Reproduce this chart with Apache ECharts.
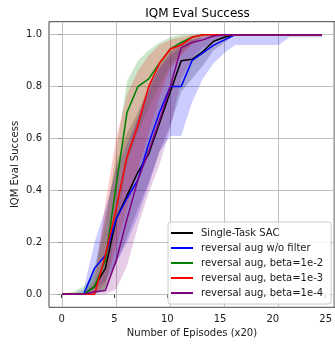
<!DOCTYPE html>
<html><head><meta charset="utf-8">
<script src="https://cdn.jsdelivr.net/npm/echarts@6/dist/echarts.min.js"></script>
<style>html,body{margin:0;padding:0;background:#fff}#c{width:335px;height:345px}</style>
</head><body><div id="c"></div>
<script>
// ---- data ----
const episodes = [0,1,2,3,4,5,6,7,8,9,10,11,12,13,14,15,16,17,18,19,20,21,22,23,24];
const xTicks = [0,5,10,15,20,25];
const yTicks = [0,0.2,0.4,0.6,0.8,1.0];
const seriesNames = ['Single-Task SAC','reversal aug w/o filter','reversal aug, beta=1e-2','reversal aug, beta=1e-3','reversal aug, beta=1e-4'];

const sacMid = [0,0,0,0.03,0.10,0.29,0.38,0.47,0.54,0.66,0.78,0.90,0.905,0.935,0.975,0.99,1,1,1,1,1,1,1,1,1];
const sacLo  = [0,0,0,0,0.02,0.12,0.22,0.33,0.43,0.55,0.65,0.78,0.83,0.88,0.94,0.97,1,1,1,1,1,1,1,1,1];
const sacHi  = [0,0,0,0.10,0.30,0.50,0.62,0.70,0.80,0.88,0.94,0.97,0.98,0.99,1,1,1,1,1,1,1,1,1,1,1];

const noFiltMid = [0,0,0,0.10,0.15,0.29,0.37,0.44,0.58,0.70,0.80,0.80,0.90,0.93,0.96,0.98,1,1,1,1,1,1,1,1,1];
const noFiltLo  = [0,0,0,0.02,0.05,0.12,0.20,0.30,0.42,0.55,0.61,0.61,0.74,0.83,0.89,0.93,0.96,0.96,0.96,0.96,0.96,0.99,0.99,0.99,0.99];
const noFiltHi  = [0,0,0.02,0.20,0.33,0.48,0.58,0.68,0.80,0.87,0.92,0.95,0.98,0.99,1,1,1,1,1,1,1,1,1,1,1];

const b2Mid = [0,0,0,0.03,0.13,0.42,0.70,0.80,0.83,0.89,0.945,0.97,0.99,1,1,1,1,1,1,1,1,1,1,1,1];
const b2Lo  = [0,0,0,0,0.02,0.25,0.50,0.62,0.72,0.80,0.88,0.93,0.97,0.99,1,1,1,1,1,1,1,1,1,1,1];
const b2Hi  = [0,0.01,0.03,0.08,0.27,0.55,0.82,0.90,0.94,0.97,0.99,1,1,1,1,1,1,1,1,1,1,1,1,1,1];

const b3Mid = [0,0,0,0,0.15,0.33,0.53,0.65,0.80,0.89,0.945,0.96,0.99,1,1,1,1,1,1,1,1,1,1,1,1];
const b3Lo  = [0,0,0,0,0.04,0.18,0.33,0.48,0.62,0.76,0.87,0.92,0.96,0.99,1,1,1,1,1,1,1,1,1,1,1];
const b3Hi  = [0,0,0,0.05,0.35,0.60,0.77,0.86,0.92,0.96,0.98,0.99,1,1,1,1,1,1,1,1,1,1,1,1,1];

const b4Mid = [0,0,0,0.01,0.015,0.13,0.29,0.44,0.55,0.67,0.80,0.95,0.97,0.98,0.995,1,1,1,1,1,1,1,1,1,1];
const b4Lo  = [0,0,0,0,0,0.02,0.11,0.26,0.39,0.50,0.64,0.83,0.91,0.95,0.97,0.99,1,1,1,1,1,1,1,1,1];
const b4Hi  = [0,0,0,0.02,0.10,0.35,0.55,0.68,0.78,0.88,0.93,0.97,0.99,1,1,1,1,1,1,1,1,1,1,1,1];

// ---- styles ----
const FONT = 'DejaVu Sans';
const TXT = '#1a1a1a';
const groups = [
  {mid: sacMid, lo: sacLo, hi: sacHi, color: '#000000', fill: 'rgba(0,0,0,0.2)'},
  {mid: noFiltMid, lo: noFiltLo, hi: noFiltHi, color: '#0000ff', fill: 'rgba(0,0,255,0.2)'},
  {mid: b2Mid, lo: b2Lo, hi: b2Hi, color: '#008000', fill: 'rgba(0,128,0,0.2)'},
  {mid: b3Mid, lo: b3Lo, hi: b3Hi, color: '#ff0000', fill: 'rgba(255,0,0,0.2)'},
  {mid: b4Mid, lo: b4Lo, hi: b4Hi, color: '#800080', fill: 'rgba(128,0,128,0.2)'}
];

const series = [];
groups.forEach((g, i) => {
  series.push({
    name: 'band-' + i, type: 'custom', coordinateSystem: 'cartesian2d', xAxisIndex: 0, yAxisIndex: 0,
    data: episodes.map((x, j) => [x, g.lo[j], g.hi[j]]),
    encode: {x: 0, y: [1, 2]}, silent: true, z: 1, clip: true,
    renderItem: function (params, api) {
      if (params.dataIndex !== 0) return null;
      const pts = [];
      for (let j = 0; j < episodes.length; j++) pts.push(api.coord([episodes[j], g.hi[j]]));
      for (let j = episodes.length - 1; j >= 0; j--) pts.push(api.coord([episodes[j], g.lo[j]]));
      return {type: 'polygon', shape: {points: pts}, style: {fill: g.fill, stroke: null}};
    }
  });
});
// gridlines spanning the full axes box
series.push({
  name: 'grid', type: 'line', xAxisIndex: 0, yAxisIndex: 0, data: [], silent: true, z: 1,
  markLine: {
    silent: true, symbol: ['none', 'none'], label: {show: false}, animation: false, z: 1,
    lineStyle: {color: '#b0b0b0', width: 0.8, type: 'solid'},
    emphasis: {disabled: true},
    data: xTicks.map(v => ({xAxis: v})).concat(yTicks.map(v => ({yAxis: v})))
  }
});
groups.forEach((g, i) => {
  series.push({
    name: seriesNames[i], type: 'line', xAxisIndex: 0, yAxisIndex: 0,
    data: episodes.map((x, j) => [x, g.mid[j]]), symbol: 'none', showSymbol: false,
    lineStyle: {color: g.color, width: 1.5}, itemStyle: {color: g.color}, z: 2
  });
});

const chart = echarts.init(document.getElementById('c'), null, {renderer: 'canvas'});
chart.setOption({
  animation: false,
  backgroundColor: '#ffffff',
  title: {
    text: 'IQM Eval Success', left: 192.5, top: 3, textAlign: 'center',
    textStyle: {fontSize: 12, fontWeight: 'normal', color: '#000', fontFamily: FONT}
  },
  grid: [
    {left: 49, top: 21.7, width: 287.3, height: 285.6, show: true, borderColor: '#444', borderWidth: 1, backgroundColor: 'transparent', containLabel: false},
    {left: 61.7, top: 34.3, width: 272, height: 259.7, show: false, containLabel: false}
  ],
  xAxis: [
    {gridIndex: 0, type: 'value', min: -1.2, max: 25.2,
     axisLine: {show: false}, axisTick: {show: false}, axisLabel: {show: false}, splitLine: {show: false},
     name: 'Number of Episodes (x20)', nameLocation: 'middle', nameGap: 21,
     nameTextStyle: {fontSize: 10, color: TXT, fontFamily: FONT}},
    {gridIndex: 1, type: 'value', min: 0, max: 25, interval: 5, offset: 13.3, position: 'bottom',
     axisLine: {show: false}, splitLine: {show: false},
     axisTick: {show: true, length: 4, lineStyle: {color: '#333'}},
     axisLabel: {margin: 7, fontSize: 10, color: TXT, fontFamily: FONT}}
  ],
  yAxis: [
    {gridIndex: 0, type: 'value', min: -0.05, max: 1.05,
     axisLine: {show: false}, axisTick: {show: false}, axisLabel: {show: false}, splitLine: {show: false},
     name: 'IQM Eval Success', nameLocation: 'middle', nameGap: 29, nameRotate: 90,
     nameTextStyle: {fontSize: 10, color: TXT, fontFamily: FONT}},
    {gridIndex: 1, type: 'value', min: 0, max: 1, interval: 0.2, offset: 12.7, position: 'left',
     axisLine: {show: false}, splitLine: {show: false},
     axisTick: {show: true, length: 4, lineStyle: {color: '#333'}},
     axisLabel: {margin: 7, fontSize: 10, color: TXT, fontFamily: FONT, formatter: v => v.toFixed(1)}}
  ],
  legend: {
    data: seriesNames.map((n, i) => ({name: n, icon: 'rect', itemStyle: {color: groups[i].color}})),
    orient: 'vertical', left: 168, top: 222,
    itemWidth: 22, itemHeight: 2, itemGap: 3,
    padding: [5, 8, 5, 3],
    backgroundColor: 'rgba(255,255,255,0.8)', borderColor: '#cccccc', borderWidth: 1, borderRadius: 3,
    textStyle: {fontSize: 10, lineHeight: 12, color: TXT, fontFamily: FONT, padding: [0, 0, 0, 3]},
    z: 10
  },
  series: series
});
</script>
</body></html>
